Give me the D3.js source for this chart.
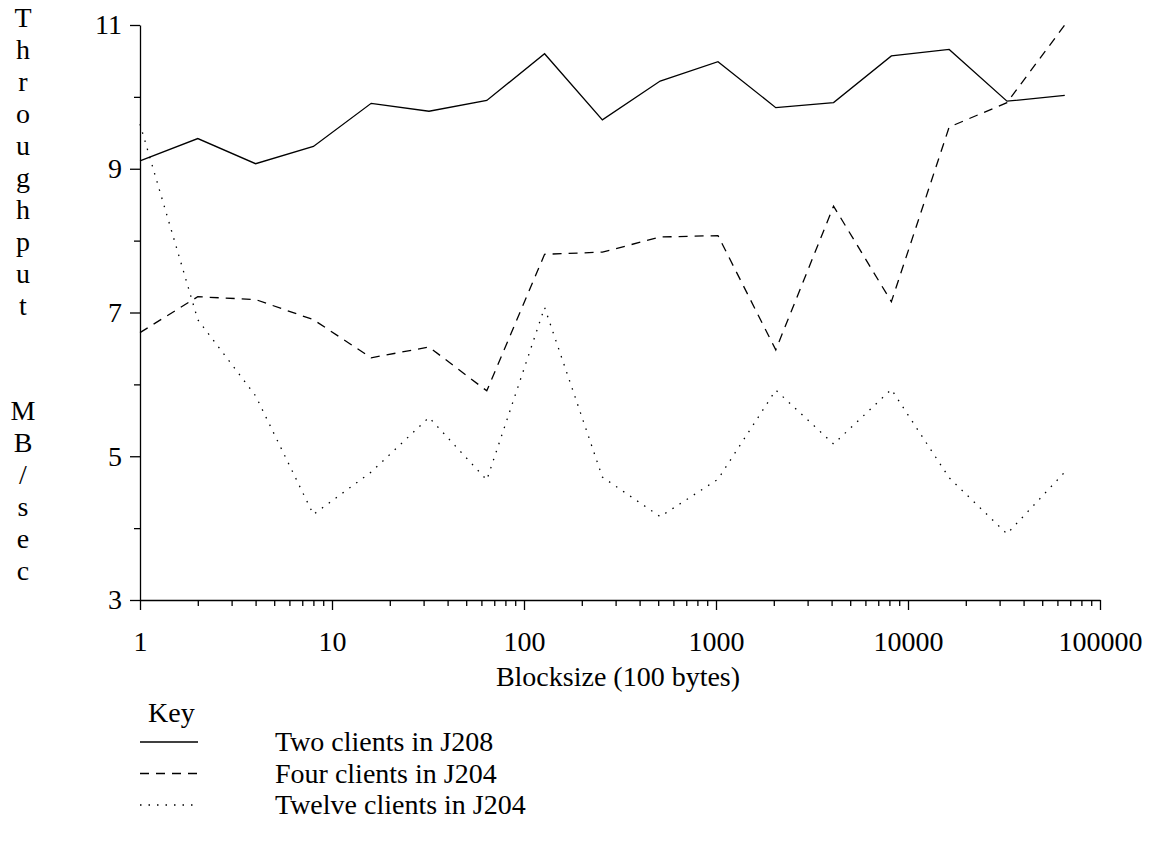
<!DOCTYPE html>
<html>
<head>
<meta charset="utf-8">
<style>
  body { margin: 0; background: #fff; }
</style>
</head>
<body>
<div id="container"></div>
<script src="https://cdn.jsdelivr.net/npm/d3@7"></script>
<script>
// block sizes (units of 100 bytes)
const blocksizes = [1, 2, 4, 8, 16, 32, 64, 128, 256, 512, 1024, 2048, 4096, 8192, 16384, 32768, 65536];

// throughput in MB/sec
const twoJ208 = [9.11, 9.42, 9.07, 9.31, 9.91, 9.80, 9.95, 10.60, 9.68, 10.22, 10.49, 9.85, 9.92, 10.57, 10.66, 9.94, 10.02];
const fourJ204 = [6.72, 7.22, 7.18, 6.90, 6.37, 6.52, 5.91, 7.81, 7.84, 8.05, 8.07, 6.48, 8.48, 7.15, 9.58, 9.92, 11.0];
const twelveJ204 = [9.62, 6.90, 5.84, 4.19, 4.78, 5.54, 4.67, 7.07, 4.71, 4.16, 4.68, 5.92, 5.17, 5.93, 4.70, 3.92, 4.78];

const seriesNames = ["Two clients in J208", "Four clients in J204", "Twelve clients in J204"];
const xMajorTicks = [1, 10, 100, 1000, 10000, 100000];
const yMajorTicks = [3, 5, 7, 9, 11];
const yMinorTicks = [4, 6, 8, 10];
const yTitle1 = "Throughput";
const yTitle2 = "MB/sec";

const width = 1151, height = 846;
const fontSize = 28;
const serif = "'Liberation Serif', 'DejaVu Serif', serif";

const svg = d3.select("#container")
    .append("svg")
    .attr("width", width)
    .attr("height", height)
    .style("font-family", serif);

const x = d3.scaleLog().domain([1, 100000]).range([140, 1100]);
const y = d3.scaleLinear().domain([3, 11]).range([600, 25]);

// minor x ticks 2..9 in each decade
const xMinorTicks = [];
xMajorTicks.slice(0, -1).forEach(d => {
    for (let k = 2; k <= 9; k++) xMinorTicks.push(d * k);
});

// x axis
svg.append("g")
    .attr("transform", `translate(0, ${y(3)})`)
    .call(d3.axisBottom(x).tickValues(xMinorTicks).tickSize(6).tickFormat("").tickSizeOuter(0))
    .call(g => g.select(".domain").remove());
svg.append("g")
    .attr("transform", `translate(0, ${y(3)})`)
    .call(d3.axisBottom(x).tickValues(xMajorTicks).tickSize(10).tickSizeOuter(0).tickPadding(21).tickFormat(d3.format("d")));

// y axis
svg.append("g")
    .attr("transform", `translate(${x(1)}, 0)`)
    .call(d3.axisLeft(y).tickValues(yMinorTicks).tickSize(6).tickFormat("").tickSizeOuter(0))
    .call(g => g.select(".domain").remove());
svg.append("g")
    .attr("transform", `translate(${x(1)}, 0)`)
    .call(d3.axisLeft(y).tickValues(yMajorTicks).tickSize(10).tickSizeOuter(0).tickPadding(8));

svg.selectAll("g").attr("font-family", null);
svg.selectAll(".tick text")
    .attr("font-size", fontSize)
    .style("font-family", serif)
    .attr("fill", "#000");
svg.selectAll(".domain, .tick line").attr("stroke", "#000").attr("stroke-width", 1.3);

// axis titles
svg.append("text")
    .attr("x", 618)
    .attr("y", 686)
    .attr("text-anchor", "middle")
    .attr("font-size", fontSize)
    .style("font-family", serif)
    .text("Blocksize (100 bytes)");

const yTitle = svg.append("text")
    .attr("text-anchor", "middle")
    .attr("font-size", fontSize)
    .style("font-family", serif);
yTitle1.split("").forEach((ch, i) => {
    yTitle.append("tspan").attr("x", 23).attr("y", 27 + i * 32).text(ch);
});
yTitle2.split("").forEach((ch, i) => {
    yTitle.append("tspan").attr("x", 23).attr("y", 420 + i * 32).text(ch);
});

// lines
const dashes = [null, "9,7", "1.5,7"];
const allSeries = [twoJ208, fourJ204, twelveJ204];

const line = d3.line()
    .x((d, i) => x(blocksizes[i]))
    .y(d => y(d));

allSeries.forEach((s, k) => {
    svg.append("path")
        .datum(s)
        .attr("d", line)
        .attr("fill", "none")
        .attr("stroke", "#000")
        .attr("stroke-width", 1.3)
        .attr("stroke-dasharray", dashes[k]);
});

// key
svg.append("text")
    .attr("x", 148)
    .attr("y", 722)
    .attr("font-size", fontSize)
    .style("font-family", serif)
    .text("Key");

seriesNames.forEach((name, k) => {
    const ly = 742 + k * 31.5;
    svg.append("line")
        .attr("x1", 140).attr("x2", 198)
        .attr("y1", ly).attr("y2", ly)
        .attr("stroke", "#000")
        .attr("stroke-width", 1.3)
        .attr("stroke-dasharray", dashes[k]);
    svg.append("text")
        .attr("x", 275)
        .attr("y", ly + 9)
        .attr("font-size", fontSize)
        .style("font-family", serif)
        .text(name);
});
</script>
</body>
</html>
